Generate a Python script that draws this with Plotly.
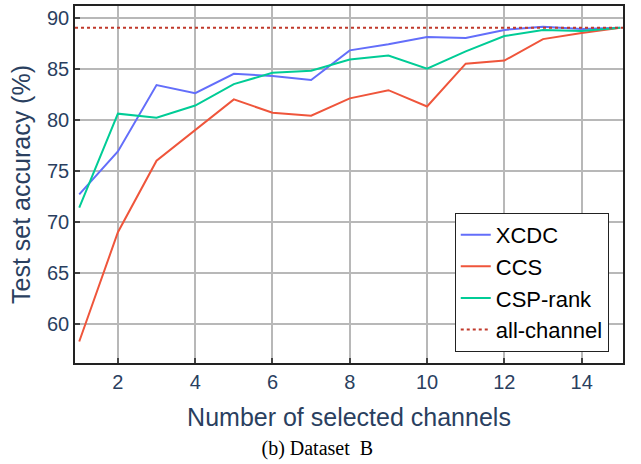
import plotly.graph_objects as go

# Number of selected channels
channels = list(range(1, 16))

# Test set accuracy (%) per method
xcdc = [72.7, 76.9, 83.4, 82.6, 84.5, 84.3, 83.9, 86.8, 87.4, 88.1, 88.0, 88.8, 89.1, 88.9, 89.0]
ccs = [58.3, 69.0, 76.0, 79.0, 82.0, 80.7, 80.4, 82.1, 82.9, 81.3, 85.5, 85.8, 87.9, 88.5, 89.0]
csp_rank = [71.4, 80.6, 80.2, 81.4, 83.5, 84.6, 84.8, 85.9, 86.3, 85.0, 86.7, 88.2, 88.8, 88.7, 89.0]
all_channel = 89.0

x_ticks = [2, 4, 6, 8, 10, 12, 14]
y_ticks = [60, 65, 70, 75, 80, 85, 90]

fig = go.Figure()
fig.add_trace(go.Scatter(x=channels, y=xcdc, mode="lines", name="XCDC",
                         line=dict(color="#636efa", width=2)))
fig.add_trace(go.Scatter(x=channels, y=ccs, mode="lines", name="CCS",
                         line=dict(color="#ef553b", width=2)))
fig.add_trace(go.Scatter(x=channels, y=csp_rank, mode="lines", name="CSP-rank",
                         line=dict(color="#00cc96", width=2)))
fig.add_trace(go.Scatter(x=[0.89, 15.07], y=[all_channel, all_channel], mode="lines",
                         name="all-channel",
                         line=dict(color="#c0392b", width=2, dash="3px,3px")))

axis_common = dict(
    showgrid=True, gridcolor="#b8b8b8", gridwidth=2,
    showline=True, linecolor="#222222", linewidth=1.5, mirror=True,
    ticks="inside", ticklen=5, tickcolor="#444444", tickwidth=2,
    tickfont=dict(family="Liberation Sans", size=20, color="#2a3f5f"),
    zeroline=False,
)

fig.update_layout(
    width=641, height=464,
    margin=dict(l=75, r=18, t=4, b=101),
    paper_bgcolor="white", plot_bgcolor="white",
    xaxis=dict(range=[0.89, 15.07], tickvals=x_ticks,
               title=dict(text="Number of selected channels", standoff=17,
                          font=dict(family="Liberation Sans", size=25, color="#2a3f5f")),
               **axis_common),
    yaxis=dict(range=[56.2, 91.14], tickvals=y_ticks,
               title=dict(text="Test set accuracy (%)", standoff=9,
                          font=dict(family="Liberation Sans", size=25, color="#2a3f5f")),
               **axis_common),
    legend=dict(x=0.974, y=0.031, xanchor="right", yanchor="bottom",
                bgcolor="white", bordercolor="#222222", borderwidth=1,
                font=dict(family="Liberation Sans", size=22, color="black")),
    title=dict(text="(b) Dataset  B", x=0.495, xref="container", xanchor="center",
               y=0.034, yref="container", yanchor="middle",
               font=dict(family="Liberation Serif", size=20, color="black")),
    showlegend=True,
)

fig.write_html("out.html")
